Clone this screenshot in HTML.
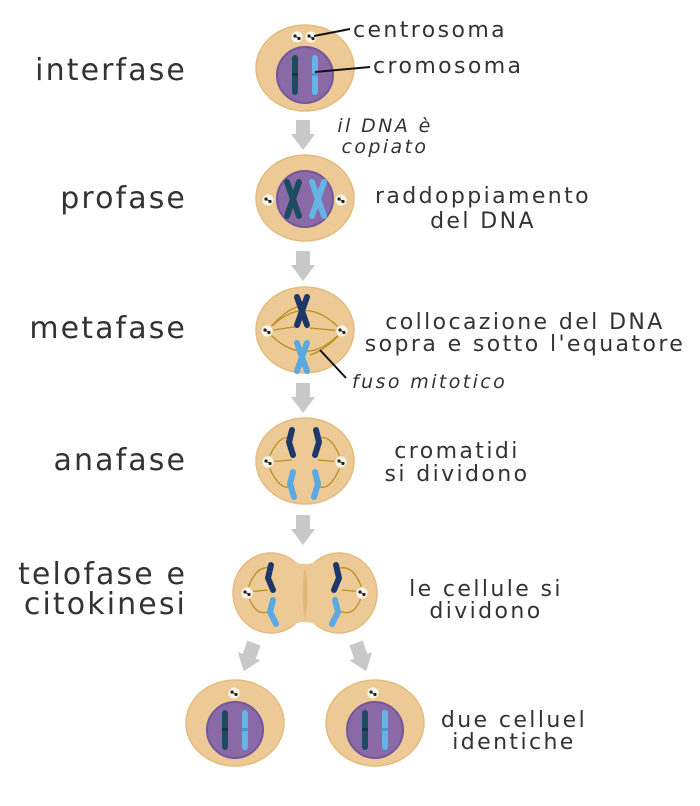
<!DOCTYPE html>
<html><head><meta charset="utf-8"><style>
html,body{margin:0;padding:0;background:#fff;width:700px;height:806px;overflow:hidden}
svg{display:block}
.L{font-family:"DejaVu Sans","Liberation Sans",sans-serif;font-size:30px;fill:#333;letter-spacing:2.1px;text-anchor:end}
.R{font-family:"DejaVu Sans","Liberation Sans",sans-serif;font-size:22px;fill:#333;letter-spacing:2.4px;text-anchor:middle}
.I{font-family:"DejaVu Sans","Liberation Sans",sans-serif;font-size:19px;fill:#333;font-style:italic;letter-spacing:2.4px}
</style></head><body>
<svg width="700" height="806" viewBox="0 0 700 806" xmlns="http://www.w3.org/2000/svg">
<defs>
<g id="cen"><circle r="6" fill="#fbf6ea" stroke="#e7cf9f" stroke-width="1"/><circle cx="-2" cy="-1" r="1.6" fill="#222"/><circle cx="2" cy="1.5" r="1.6" fill="#222"/><line x1="-2" y1="-1" x2="2" y2="1.5" stroke="#222" stroke-width="1"/></g>
<g id="arr"><rect x="-7" y="0" width="14" height="15" fill="#c8c8c8"/><polygon points="-12,14 12,14 0,30" fill="#c8c8c8"/></g>
<g id="nuc"><circle r="28" fill="#8a6aa6" stroke="#74569a" stroke-width="2"/></g>
<g id="pair">
<rect x="-13" y="-20" width="6" height="40" rx="3" fill="#1d4c5e"/><rect x="-13" y="-2" width="6" height="3" fill="#143645"/>
<rect x="7" y="-20" width="6" height="40" rx="3" fill="#66b4e6"/><rect x="7" y="-2" width="6" height="3" fill="#4f97c8"/>
</g>
</defs>

<text class="L" x="187" y="80">interfase</text>
<text class="L" x="187" y="208">profase</text>
<text class="L" x="187" y="338">metafase</text>
<text class="L" x="187" y="470">anafase</text>
<text class="L" x="187" y="584">telofase e</text>
<text class="L" x="187" y="614">citokinesi</text>

<!-- cell 1 -->
<ellipse cx="305" cy="68" rx="49" ry="43" fill="#edca95" stroke="#e3bb7f" stroke-width="1.5"/>
<use href="#nuc" x="305" y="75"/>
<use href="#pair" x="305" y="75"/>
<use href="#cen" x="297" y="37"/><use href="#cen" x="311" y="37"/>
<line x1="314" y1="36" x2="350" y2="29" stroke="#111" stroke-width="2"/>
<line x1="315" y1="72" x2="370" y2="67" stroke="#111" stroke-width="2"/>
<text class="R" x="353" y="37" style="text-anchor:start">centrosoma</text>
<text class="R" x="373" y="73" style="text-anchor:start">cromosoma</text>

<use href="#arr" x="303" y="120"/>
<text class="I" x="385" y="132" text-anchor="middle">il DNA è</text>
<text class="I" x="385" y="153" text-anchor="middle">copiato</text>

<!-- cell 2 -->
<ellipse cx="305" cy="198" rx="49" ry="43" fill="#edca95" stroke="#e3bb7f" stroke-width="1.5"/>
<use href="#nuc" x="305" y="199"/>
<path d="M287 182 L299 216 M299 182 L287 216" stroke="#1d4c5e" stroke-width="6" stroke-linecap="round"/>
<path d="M312 182 L324 216 M324 182 L312 216" stroke="#66b4e6" stroke-width="6" stroke-linecap="round"/>
<use href="#cen" x="268" y="200"/><use href="#cen" x="341" y="200"/>
<text class="R" x="483" y="203">raddoppiamento</text>
<text class="R" x="483" y="228">del DNA</text>

<use href="#arr" x="303" y="251"/>

<!-- cell 3 -->
<ellipse cx="305" cy="330" rx="49" ry="43" fill="#edca95" stroke="#e3bb7f" stroke-width="1.5"/>
<g fill="none" stroke="#b98f1e" stroke-width="1.3">
<path d="M267 331 Q305 290 342 331"/><path d="M267 331 Q305 372 342 331"/>
<path d="M267 331 L300 326 M342 331 L310 328"/>
<path d="M270 328 Q285 310 300 306"/><path d="M340 334 Q325 350 310 355"/>
</g>
<path d="M297 297 L307 325 M307 297 L297 325" stroke="#1d3868" stroke-width="6" stroke-linecap="round"/>
<path d="M297 343 L307 371 M307 343 L297 371" stroke="#5aa9e2" stroke-width="6" stroke-linecap="round"/>
<use href="#cen" x="267" y="331"/><use href="#cen" x="342" y="331"/>
<line x1="320" y1="350" x2="346" y2="378" stroke="#111" stroke-width="2"/>
<text class="I" x="352" y="388">fuso mitotico</text>
<text class="R" x="525" y="329">collocazione del DNA</text>
<text class="R" x="525" y="351">sopra e sotto l'equatore</text>

<use href="#arr" x="303" y="383"/>

<!-- cell 4 -->
<ellipse cx="305" cy="461" rx="49" ry="43" fill="#edca95" stroke="#e3bb7f" stroke-width="1.5"/>
<g fill="none" stroke="#b98f1e" stroke-width="1.3">
<path d="M267 462 Q280 430 293 440"/><path d="M342 462 Q330 430 317 440"/>
<path d="M267 462 Q280 495 294 485"/><path d="M342 462 Q330 495 316 485"/>
<path d="M267 462 L292 460 M342 462 L318 460"/>
</g>
<path d="M292 430 L289 442 L293 455" fill="none" stroke="#1d3868" stroke-width="6" stroke-linecap="round" stroke-linejoin="round"/>
<path d="M316 430 L319 442 L315 455" fill="none" stroke="#1d3868" stroke-width="6" stroke-linecap="round" stroke-linejoin="round"/>
<path d="M293 472 L290 484 L294 497" fill="none" stroke="#5aa9e2" stroke-width="6" stroke-linecap="round" stroke-linejoin="round"/>
<path d="M315 472 L318 484 L314 497" fill="none" stroke="#5aa9e2" stroke-width="6" stroke-linecap="round" stroke-linejoin="round"/>
<use href="#cen" x="268" y="462"/><use href="#cen" x="341" y="462"/>
<text class="R" x="457" y="458">cromatidi</text>
<text class="R" x="457" y="481">si dividono</text>

<use href="#arr" x="303" y="515"/>

<!-- telofase -->
<ellipse cx="271" cy="593" rx="38" ry="40" fill="#edca95" stroke="#e3bb7f" stroke-width="1.5"/>
<ellipse cx="339" cy="593" rx="38" ry="40" fill="#edca95" stroke="#e3bb7f" stroke-width="1.5"/>
<path d="M290 560 Q305 568 320 560 L320 626 Q305 618 290 626 Z" fill="#edca95"/>
<path d="M305 566 Q300 593 305 620 Q310 593 305 566 Z" fill="#e2b77c"/>
<g fill="none" stroke="#b98f1e" stroke-width="1.3">
<path d="M247 592 Q255 565 270 568"/><path d="M247 592 Q255 620 272 610"/><path d="M247 592 L268 590"/>
<path d="M363 592 Q355 565 340 568"/><path d="M363 592 Q355 620 338 610"/><path d="M363 592 L342 590"/>
</g>
<path d="M271 565 L268 578 L273 590" fill="none" stroke="#1d3868" stroke-width="6" stroke-linecap="round" stroke-linejoin="round"/>
<path d="M336 565 L339 578 L334 590" fill="none" stroke="#1d3868" stroke-width="6" stroke-linecap="round" stroke-linejoin="round"/>
<path d="M273 600 L270 612 L276 624" fill="none" stroke="#5aa9e2" stroke-width="6" stroke-linecap="round" stroke-linejoin="round"/>
<path d="M335 600 L338 612 L332 624" fill="none" stroke="#5aa9e2" stroke-width="6" stroke-linecap="round" stroke-linejoin="round"/>
<use href="#cen" x="247" y="593"/><use href="#cen" x="362" y="593"/>
<text class="R" x="486" y="596">le cellule si</text>
<text class="R" x="486" y="618">dividono</text>

<use href="#arr" transform="translate(254,643) rotate(20)"/>
<use href="#arr" transform="translate(356,643) rotate(-20)"/>

<!-- daughters -->
<ellipse cx="235" cy="723" rx="49" ry="43" fill="#edca95" stroke="#e3bb7f" stroke-width="1.5"/>
<use href="#nuc" x="235" y="730"/><use href="#pair" x="235" y="730"/>
<use href="#cen" x="234" y="693"/>
<ellipse cx="375" cy="723" rx="49" ry="43" fill="#edca95" stroke="#e3bb7f" stroke-width="1.5"/>
<use href="#nuc" x="375" y="730"/><use href="#pair" x="375" y="730"/>
<use href="#cen" x="373" y="693"/>
<text class="R" x="514" y="727">due celluel</text>
<text class="R" x="514" y="749">identiche</text>
</svg>
</body></html>
